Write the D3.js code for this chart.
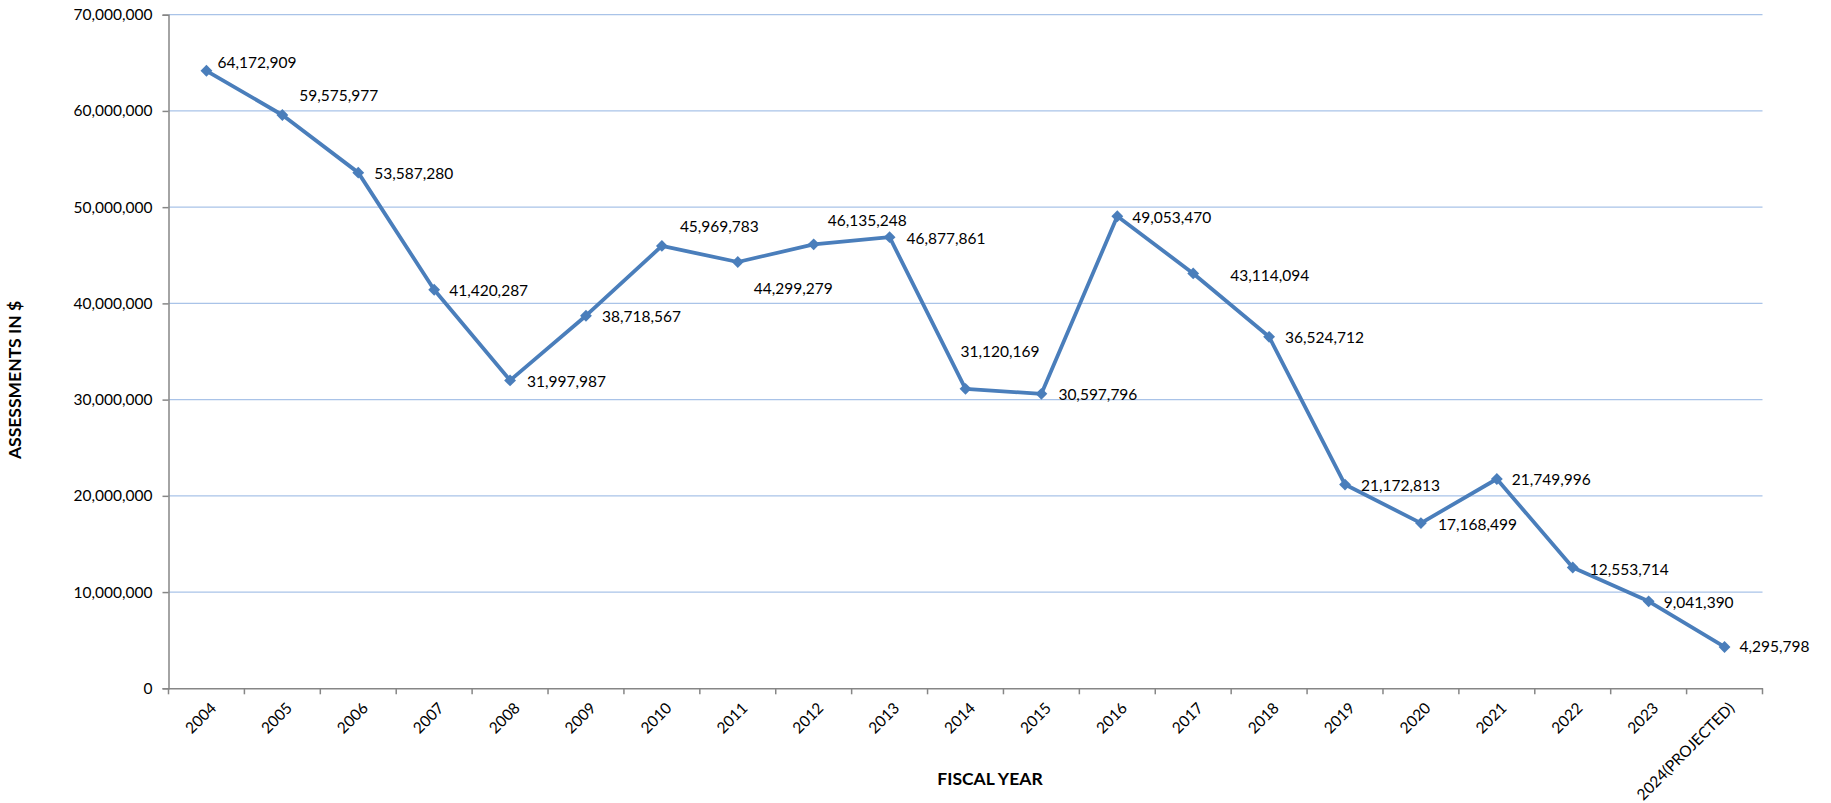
<!DOCTYPE html>
<html>
<head>
<meta charset="utf-8">
<script src="https://cdn.jsdelivr.net/npm/d3@7/dist/d3.min.js"></script>
<style>
  html, body { margin: 0; padding: 0; background: #ffffff; }
  svg { display: block; }
  text { font-family: Lato, "Open Sans", "Liberation Sans", sans-serif; fill: #000; }
</style>
</head>
<body>
<svg id="chart" width="1831" height="803"></svg>
<script>
// ---- data ----
const categories = ["2004","2005","2006","2007","2008","2009","2010","2011","2012","2013",
  "2014","2015","2016","2017","2018","2019","2020","2021","2022","2023","2024(PROJECTED)"];
const assessments = [64172909, 59575977, 53587280, 41420287, 31997987, 38718567, 45969783,
  44299279, 46135248, 46877861, 31120169, 30597796, 49053470, 43114094, 36524712, 21172813,
  17168499, 21749996, 12553714, 9041390, 4295798];
const yTicks = [0, 10000000, 20000000, 30000000, 40000000, 50000000, 60000000, 70000000];
const xTitle = "FISCAL YEAR";
const yTitle = "ASSESSMENTS IN $";

// label placement offsets (px, relative to point) — layout only
const labelOffsets = [
  [11,-8],[17,-19],[16,1],[15,1],[17,1],[16,1],[18,-19],[16,27],[14,-24],[17,1],
  [-5,-37],[17,1],[15,1],[37,2],[16,1],[16,1],[17,1],[15,1],[17,2],[15,1],[15,0]
];

// ---- layout ----
const svg = d3.select("#chart");
const plotLeft = 168.5, plotRight = 1762.5, plotTop = 14.7, plotBottom = 688.3;

const x = d3.scaleBand().domain(categories).range([plotLeft, plotRight]);
const y = d3.scaleLinear().domain([0, 70000000]).range([plotBottom, plotTop]);
const fmt = d3.format(",");

// gridlines
svg.append("g").selectAll("line").data(yTicks.filter(d => d > 0)).join("line")
  .attr("x1", plotLeft).attr("x2", plotRight)
  .attr("y1", d => y(d)).attr("y2", d => y(d))
  .attr("stroke", "#a9c3e8").attr("stroke-width", 1.3);

// y axis
const yAxis = svg.append("g").attr("transform", `translate(${plotLeft},0)`)
  .call(d3.axisLeft(y).tickValues(yTicks).tickFormat(fmt).tickSize(6).tickPadding(10));
yAxis.select(".domain").attr("stroke", "#868686").attr("stroke-width", 1.5);
yAxis.selectAll(".tick line").attr("stroke", "#868686").attr("stroke-width", 1.5);
yAxis.selectAll(".tick text").style("font-size", "15.5px").attr("fill", "#000")
  .style("font-family", "Lato, 'Open Sans', sans-serif");

// x axis
const xAxis = svg.append("g").attr("transform", `translate(0,${plotBottom})`)
  .call(d3.axisBottom(x).tickSize(0).tickFormat(""));
xAxis.select(".domain").attr("stroke", "#868686").attr("stroke-width", 1.5);
// tick marks at category boundaries
svg.append("g").selectAll("line").data(categories.concat(["__end"])).join("line")
  .attr("x1", (d, i) => plotLeft + i * x.step()).attr("x2", (d, i) => plotLeft + i * x.step())
  .attr("y1", plotBottom).attr("y2", plotBottom + 6)
  .attr("stroke", "#868686").attr("stroke-width", 1.5);
// rotated tick labels
svg.append("g").selectAll("text").data(categories).join("text")
  .attr("transform", d => `translate(${x(d) + x.bandwidth() / 2 + 3},${plotBottom + 13}) rotate(-45)`)
  .attr("text-anchor", "end")
  .attr("dy", "0.71em")
  .style("font-size", "15.5px")
  .text(d => d);

// line
const pts = categories.map((c, i) => ({ c, v: assessments[i], i }));
const cx = d => x(d.c) + x.bandwidth() / 2;
svg.append("path").datum(pts)
  .attr("fill", "none").attr("stroke", "#4a7ebb").attr("stroke-width", 3.8)
  .attr("stroke-linejoin", "round")
  .attr("d", d3.line().x(cx).y(d => y(d.v)));

// markers (diamonds)
svg.append("g").selectAll("path").data(pts).join("path")
  .attr("transform", d => `translate(${cx(d)},${y(d.v)}) rotate(45)`)
  .attr("d", d3.symbol().type(d3.symbolSquare).size(70)())
  .attr("fill", "#4a7ebb");

// data labels
svg.append("g").selectAll("text").data(pts).join("text")
  .attr("x", d => cx(d) + labelOffsets[d.i][0])
  .attr("y", d => y(d.v) + labelOffsets[d.i][1])
  .attr("dy", "0.35em")
  .style("font-size", "15.5px")
  .text(d => fmt(d.v));

// axis titles
svg.append("text")
  .attr("transform", `translate(21,380) rotate(-90)`)
  .attr("text-anchor", "middle")
  .style("font-size", "17.5px").style("font-weight", "bold")
  .text(yTitle);
svg.append("text")
  .attr("x", 990).attr("y", 785)
  .attr("text-anchor", "middle")
  .style("font-size", "17.5px").style("font-weight", "bold")
  .text(xTitle);
</script>
</body>
</html>
